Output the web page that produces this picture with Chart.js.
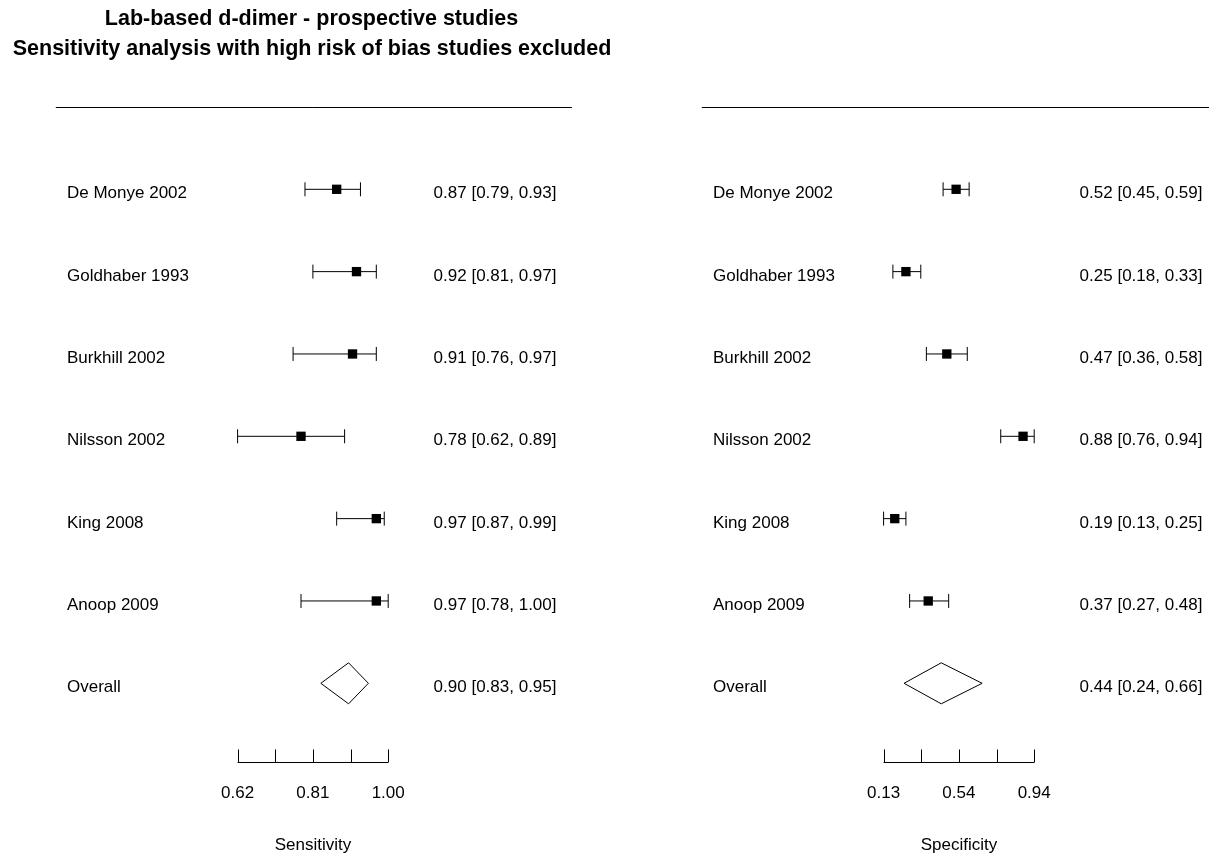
<!DOCTYPE html>
<html>
<head>
<meta charset="utf-8">
<script src="https://cdn.jsdelivr.net/npm/chart.js@4"></script>
<style>
  html, body { margin: 0; padding: 0; background: #fff; }
  #wrap { position: relative; width: 1209px; height: 856px; overflow: hidden; }
  canvas { position: absolute; top: 0; }
</style>
</head>
<body>
<div id="wrap">
  <canvas id="sensChart" width="646" height="856" style="left:0px"></canvas>
  <canvas id="specChart" width="563" height="856" style="left:646px"></canvas>
</div>
<script>
const studies = ['De Monye 2002', 'Goldhaber 1993', 'Burkhill 2002', 'Nilsson 2002', 'King 2008', 'Anoop 2009'];

const sens   = [0.87, 0.92, 0.91, 0.78, 0.97, 0.97];
const sensLo = [0.79, 0.81, 0.76, 0.62, 0.87, 0.78];
const sensHi = [0.93, 0.97, 0.97, 0.89, 0.99, 1.00];
const sensOverall = [0.90, 0.83, 0.95];

const spec   = [0.52, 0.25, 0.47, 0.88, 0.19, 0.37];
const specLo = [0.45, 0.18, 0.36, 0.76, 0.13, 0.27];
const specHi = [0.59, 0.33, 0.58, 0.94, 0.25, 0.48];
const specOverall = [0.44, 0.24, 0.66];

const sensTicks = [0.62, 0.715, 0.81, 0.905, 1.00];
const sensTickLabels = ['0.62', '', '0.81', '', '1.00'];
const specTicks = [0.13, 0.3325, 0.535, 0.7375, 0.94];
const specTickLabels = ['0.13', '', '0.54', '', '0.94'];

const titleLines = ['Lab-based d-dimer - prospective studies', 'Sensitivity analysis with high risk of bias studies excluded'];

const FONT = "'Liberation Sans', Arial, sans-serif";
const fmt = (e, l, h) => e.toFixed(2) + ' [' + l.toFixed(2) + ', ' + h.toFixed(2) + ']';

// draws whiskers, diamond, axis and the text columns of one panel
const forestPlugin = {
  id: 'forest',
  beforeDatasetsDraw(chart) {
    const p = chart.options.plugins.forest;
    const ctx = chart.ctx, xs = chart.scales.x, ys = chart.scales.y;
    ctx.save();
    ctx.strokeStyle = '#000';
    ctx.lineWidth = 1;
    p.est.forEach((v, i) => {
      const yy = ys.getPixelForValue(i + 1);
      const a = xs.getPixelForValue(p.lo[i]), b = xs.getPixelForValue(p.hi[i]);
      ctx.beginPath();
      ctx.moveTo(a, yy); ctx.lineTo(b, yy);
      ctx.moveTo(a, yy - 7); ctx.lineTo(a, yy + 7);
      ctx.moveTo(b, yy - 7); ctx.lineTo(b, yy + 7);
      ctx.stroke();
    });
    // pooled estimate
    const yd = ys.getPixelForValue(p.est.length + 1);
    const [e, l, h] = p.overall;
    ctx.beginPath();
    ctx.moveTo(xs.getPixelForValue(l), yd);
    ctx.lineTo(xs.getPixelForValue(e), yd - 20.5);
    ctx.lineTo(xs.getPixelForValue(h), yd);
    ctx.lineTo(xs.getPixelForValue(e), yd + 20.5);
    ctx.closePath();
    ctx.stroke();
    ctx.restore();
  },
  afterDraw(chart) {
    const p = chart.options.plugins.forest;
    const ctx = chart.ctx, xs = chart.scales.x, ys = chart.scales.y;
    ctx.save();
    ctx.strokeStyle = '#000';
    ctx.fillStyle = '#000';
    ctx.lineWidth = 1;

    // top rule
    ctx.beginPath();
    ctx.moveTo(55.8, 107.5); ctx.lineTo(571.9, 107.5);
    ctx.stroke();

    // axis
    const ya = 762.5;
    ctx.beginPath();
    ctx.moveTo(xs.getPixelForValue(p.ticks[0]), ya);
    ctx.lineTo(xs.getPixelForValue(p.ticks[p.ticks.length - 1]), ya);
    p.ticks.forEach(t => {
      const tx = Math.round(xs.getPixelForValue(t)) + 0.5;
      ctx.moveTo(tx, ya); ctx.lineTo(tx, ya - 13);
    });
    ctx.stroke();

    ctx.font = '17px ' + FONT;
    ctx.textAlign = 'center';
    ctx.textBaseline = 'middle';
    p.ticks.forEach((t, i) => {
      if (p.tickLabels[i]) ctx.fillText(p.tickLabels[i], xs.getPixelForValue(t), 793);
    });
    ctx.fillText(p.axisTitle, (xs.left + xs.right) / 2, 845);

    // study names and values
    ctx.textBaseline = 'alphabetic';
    const rows = p.names.concat(['Overall']);
    const vals = p.est.map((v, i) => fmt(v, p.lo[i], p.hi[i])).concat([fmt(...p.overall)]);
    rows.forEach((n, i) => {
      const yy = ys.getPixelForValue(i + 1) + 9;
      ctx.textAlign = 'left';
      ctx.fillText(n, 67, yy);
      ctx.textAlign = 'right';
      ctx.fillText(vals[i], 556.5, yy);
    });

    if (p.title) {
      ctx.font = 'bold 21.5px ' + FONT;
      ctx.textAlign = 'center';
      ctx.textBaseline = 'middle';
      ctx.fillText(p.title[0], 311.5, 19.5);
      ctx.fillText(p.title[1], 312, 49);
    }
    ctx.restore();
  }
};

function makePanel(id, est, lo, hi, overall, ticks, tickLabels, axisTitle, title) {
  const canvas = document.getElementById(id);
  return new Chart(canvas, {
    type: 'scatter',
    data: {
      datasets: [{
        data: est.map((v, i) => ({ x: v, y: i + 1 })),
        pointStyle: 'rect',
        pointRadius: 6.6,
        pointHoverRadius: 6.6,
        backgroundColor: '#000',
        borderWidth: 0,
        clip: false
      }]
    },
    options: {
      responsive: false,
      animation: false,
      devicePixelRatio: 1,
      events: [],
      layout: { padding: { left: 237.6, right: canvas.width - 388.2, top: 189.3, bottom: 856 - 683.3 } },
      scales: {
        x: { type: 'linear', display: false, min: ticks[0], max: ticks[ticks.length - 1] },
        y: { type: 'linear', display: false, min: 1, max: est.length + 1, reverse: true }
      },
      plugins: {
        legend: { display: false },
        tooltip: { enabled: false },
        forest: { names: studies, est, lo, hi, overall, ticks, tickLabels, axisTitle, title }
      }
    },
    plugins: [forestPlugin]
  });
}

makePanel('sensChart', sens, sensLo, sensHi, sensOverall, sensTicks, sensTickLabels, 'Sensitivity', titleLines);
makePanel('specChart', spec, specLo, specHi, specOverall, specTicks, specTickLabels, 'Specificity', null);
</script>
</body>
</html>
